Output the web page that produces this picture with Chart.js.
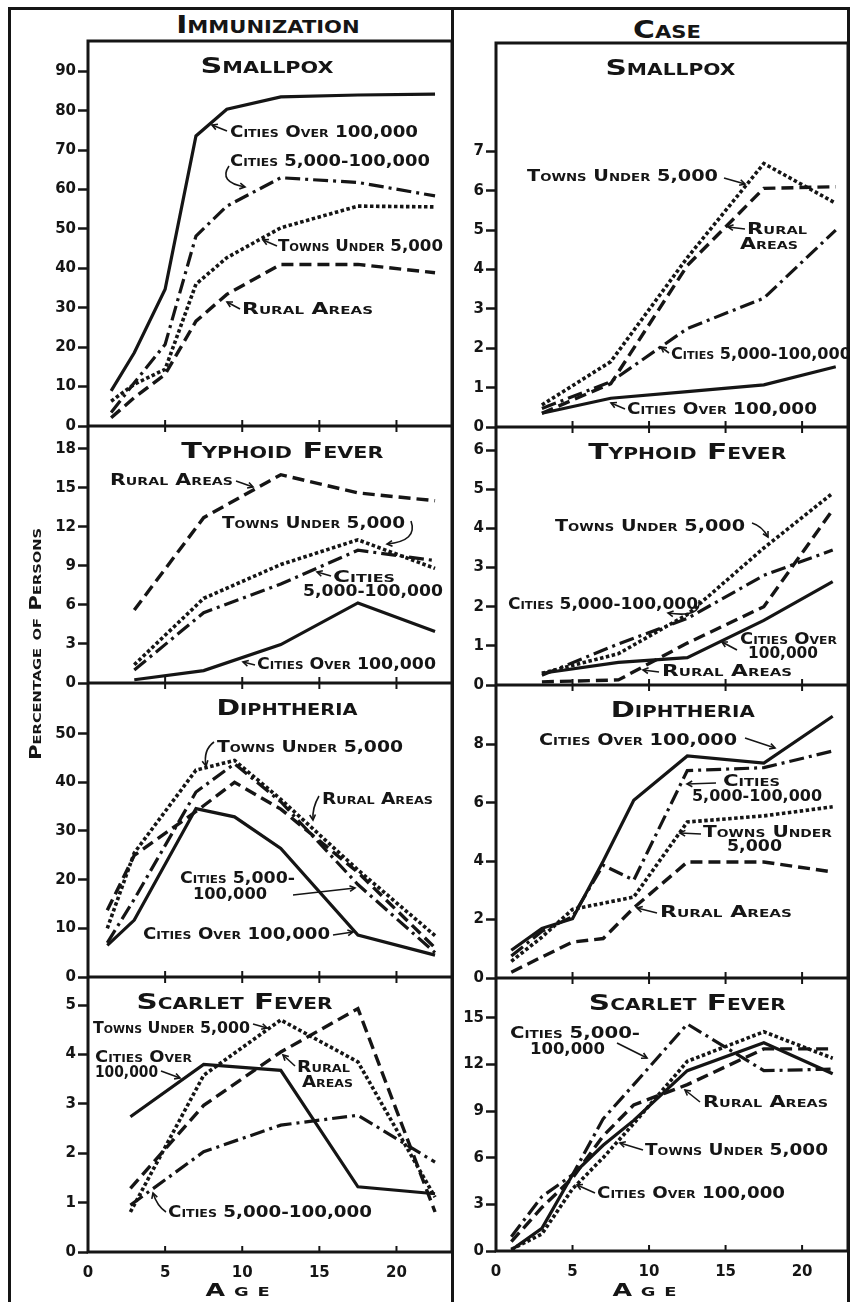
<!DOCTYPE html>
<html>
<head>
<meta charset="utf-8">
<script src="https://cdn.jsdelivr.net/npm/chart.js@4.4.0/dist/chart.umd.min.js"></script>
<style>
  body { margin: 0; background: #fff; }
  #page { position: relative; width: 850px; height: 1302px; overflow: hidden; background: #fff; }
  canvas { position: absolute; top: 0; }
  .rule { position: absolute; background: #151515; }
  .head { position: absolute; width: 220px; text-align: center; color: #151515;
          font: bold 24px "DejaVu Sans"; font-variant: small-caps; line-height: 24px;
          transform: scaleX(1.24); }
</style>
</head>
<body>
<div id="page">
  <div class="rule" style="left:8px;top:7px;width:842px;height:2.5px"></div>
  <div class="rule" style="left:8px;top:7px;width:2.5px;height:1300px"></div>
  <div class="rule" style="left:847px;top:7px;width:2.5px;height:1300px"></div>
  <div class="rule" style="left:451px;top:7px;width:2.5px;height:1300px"></div>
  <div class="head" style="left:158px;top:13px">Immunization</div>
  <div class="head" style="left:557px;top:18px">Case</div>
  <canvas id="immChart" width="460" height="1302" style="left:0"></canvas>
  <canvas id="caseChart" width="390" height="1302" style="left:460px"></canvas>
</div>
<script>
// ---- data (age in years, percentage of persons) ----
const seriesNames = ['Cities Over 100,000', 'Cities 5,000-100,000', 'Towns Under 5,000', 'Rural Areas'];
const diseases = ['Smallpox', 'Typhoid Fever', 'Diphtheria', 'Scarlet Fever'];
const ageTicks = [0, 5, 10, 15, 20];

// Immunization
const immSmallpoxAges = [1.5, 3, 5, 7, 9, 12.5, 17.5, 22.5];
const immSmallpoxCities100k = [8.9, 18.6, 34.7, 73.6, 80.4, 83.5, 84.0, 84.2];
const immSmallpoxCities5k = [3.4, 11, 20.7, 48.2, 55.8, 63, 61.8, 58.4];
const immSmallpoxTowns = [6.3, 10.6, 14.4, 36, 42.7, 50.3, 55.8, 55.6];
const immSmallpoxRural = [2.1, 7.2, 13.1, 26.6, 33.4, 41, 41, 38.9];
const immSmallpoxTicks = [0, 10, 20, 30, 40, 50, 60, 70, 80, 90];

const immTyphoidAges = [3, 7.5, 12.5, 17.5, 22.5];
const immTyphoidCities100k = [0.25, 0.95, 2.95, 6.15, 3.96];
const immTyphoidCities5k = [1.0, 5.4, 7.6, 10.2, 9.4];
const immTyphoidTowns = [1.4, 6.5, 9.1, 11.0, 8.8];
const immTyphoidRural = [5.6, 12.7, 16.0, 14.6, 14.0];
const immTyphoidTicks = [0, 3, 6, 9, 12, 15, 18];

const immDiphtheriaAges = [1.25, 3, 7, 9.5, 12.5, 17.5, 22.5];
const immDiphtheriaCities100k = [6.5, 11.7, 34.6, 32.9, 26.4, 8.6, 4.5];
const immDiphtheriaCities5k = [7, 16, 38, 43.8, 36, 19, 5];
const immDiphtheriaTowns = [10, 25.5, 42.5, 44.5, 36.5, 22, 8.5];
const immDiphtheriaRural = [13.7, 25, 34, 40, 34.5, 21.5, 6];
const immDiphtheriaTicks = [0, 10, 20, 30, 40, 50];

const immScarletAges = [2.75, 7.5, 12.5, 17.5, 22.5];
const immScarletCities100k = [2.74, 3.8, 3.68, 1.32, 1.18];
const immScarletCities5k = [0.95, 2.03, 2.57, 2.77, 1.82];
const immScarletTowns = [0.81, 3.58, 4.7, 3.85, 1.11];
const immScarletRural = [1.29, 2.97, 4.05, 4.93, 0.81];
const immScarletTicks = [0, 1, 2, 3, 4, 5];

// Case
const caseSmallpoxAges = [3, 7.5, 12.5, 17.5, 22.2];
const caseSmallpoxCities100k = [0.35, 0.73, 0.9, 1.07, 1.53];
const caseSmallpoxCities5k = [0.47, 1.15, 2.5, 3.27, 5.0];
const caseSmallpoxTowns = [0.56, 1.66, 4.3, 6.69, 5.68];
const caseSmallpoxRural = [0.35, 1.1, 4.1, 6.06, 6.1];
const caseSmallpoxTicks = [0, 1, 2, 3, 4, 5, 6, 7];

const caseTyphoidAges = [3, 8, 12.5, 17.5, 22];
const caseTyphoidCities100k = [0.3, 0.58, 0.7, 1.65, 2.64];
const caseTyphoidCities5k = [0.25, 1.05, 1.7, 2.8, 3.45];
const caseTyphoidTowns = [0.3, 0.8, 1.8, 3.5, 4.9];
const caseTyphoidRural = [0.08, 0.13, 1.07, 2.0, 4.47];
const caseTyphoidTicks = [0, 1, 2, 3, 4, 5, 6];

const caseDiphtheriaAges = [1, 3, 5, 7, 9, 12.5, 17.5, 22];
const caseDiphtheriaCities100k = [0.95, 1.7, 2.03, 4.0, 6.08, 7.6, 7.36, 8.96];
const caseDiphtheriaCities5k = [0.75, 1.6, 2.1, 3.86, 3.35, 7.1, 7.2, 7.77];
const caseDiphtheriaTowns = [0.57, 1.4, 2.35, 2.56, 2.77, 5.34, 5.55, 5.86];
const caseDiphtheriaRural = [0.2, 0.72, 1.23, 1.35, 2.4, 3.97, 3.97, 3.63];
const caseDiphtheriaTicks = [0, 2, 4, 6, 8];

const caseScarletAges = [1, 3, 5, 7, 9, 12.5, 17.5, 22];
const caseScarletCities100k = [0.06, 1.46, 4.9, 6.8, 8.4, 11.6, 13.4, 11.4];
const caseScarletCities5k = [0.92, 3.5, 4.9, 8.5, 10.7, 14.6, 11.6, 11.7];
const caseScarletTowns = [0.1, 1.1, 4.0, 6.0, 8.2, 12.2, 14.1, 12.4];
const caseScarletRural = [0.6, 2.8, 4.7, 7.4, 9.4, 10.7, 13.0, 13.0];
const caseScarletTicks = [0, 3, 6, 9, 12, 15];

// ---- styles ----
const ink = '#151515';
const lineStyles = [
  { dash: [], width: 3.2 },             // cities over 100,000: solid
  { dash: [15, 5, 3, 5], width: 3.2 },  // cities 5,000-100,000: dash-dot
  { dash: [3.5, 2.5], width: 3.6 },     // towns: dotted
  { dash: [12, 6], width: 3.4 }         // rural: dashed
];
const FONT = '"DejaVu Sans"';

// text in small caps, stretched to the width it has in the original lettering
function drawText(ctx, text, x, y, size, w, align) {
  ctx.save();
  ctx.font = 'small-caps bold ' + size + 'px ' + FONT;
  const sx = w ? w / ctx.measureText(text).width : 1;
  ctx.translate(x, y);
  ctx.scale(sx, 1);
  ctx.textAlign = align || 'left';
  ctx.textBaseline = 'middle';
  ctx.fillText(text, 0, 0);
  ctx.restore();
}

function drawArrow(ctx, a) {
  let ex, ey, fx, fy;
  ctx.beginPath();
  ctx.moveTo(a[0], a[1]);
  if (a.length === 6) {
    ctx.quadraticCurveTo(a[2], a[3], a[4], a[5]);
    ex = a[4]; ey = a[5]; fx = a[2]; fy = a[3];
  } else {
    ctx.lineTo(a[2], a[3]);
    ex = a[2]; ey = a[3]; fx = a[0]; fy = a[1];
  }
  ctx.stroke();
  const ang = Math.atan2(ey - fy, ex - fx);
  ctx.beginPath();
  ctx.moveTo(ex - 6 * Math.cos(ang - 0.5), ey - 6 * Math.sin(ang - 0.5));
  ctx.lineTo(ex, ey);
  ctx.lineTo(ex - 6 * Math.cos(ang + 0.5), ey - 6 * Math.sin(ang + 0.5));
  ctx.stroke();
}

// frame, row separators, inner ticks, titles and the hand-placed labels
function framePlugin(cfg) {
  return {
    id: 'frame',
    afterDraw(chart) {
      const { ctx, chartArea: a, scales } = chart;
      const xs = scales.x;
      ctx.save();
      ctx.strokeStyle = ink;
      ctx.fillStyle = ink;
      ctx.setLineDash([]);
      ctx.lineWidth = 3;
      ctx.strokeRect(a.left, a.top, a.right - a.left, a.bottom - a.top);
      cfg.rows.forEach((row, r) => {
        const ys = scales['y' + r];
        const last = r === cfg.rows.length - 1;
        ctx.lineWidth = 3;
        if (!last) {
          ctx.beginPath();
          ctx.moveTo(a.left, ys.bottom);
          ctx.lineTo(a.right, ys.bottom);
          ctx.stroke();
        }
        ctx.lineWidth = 2;
        ageTicks.forEach(v => {
          if (v === 0) return;
          const px = xs.getPixelForValue(v);
          ctx.beginPath();
          ctx.moveTo(px, ys.bottom - 6);
          ctx.lineTo(px, last ? ys.bottom : ys.bottom + 6);
          ctx.stroke();
        });
        drawText(ctx, diseases[r], xs.getPixelForValue(row.titleAt), ys.top + 26, 22, row.titleWidth, 'center');
      });
      ctx.lineWidth = 1.6;
      cfg.notes.forEach(n => {
        drawText(ctx, n.t, n.x - cfg.offsetX, n.y, 16, n.w, 'left');
        if (n.arrow) drawArrow(ctx, n.arrow.map((v, i) => i % 2 === 0 ? v - cfg.offsetX : v));
      });
      drawText(ctx, 'A g e', xs.getPixelForValue(9.7), 1292, 17, 64, 'center');
      if (cfg.yTitle) {
        ctx.save();
        ctx.translate(37, 644);
        ctx.rotate(-Math.PI / 2);
        drawText(ctx, cfg.yTitle, 0, 0, 16, 232, 'center');
        ctx.restore();
      }
      ctx.restore();
    }
  };
}

function buildColumn(canvasId, cfg) {
  const datasets = [];
  cfg.rows.forEach((row, r) => {
    row.series.forEach((vals, s) => {
      datasets.push({
        label: seriesNames[s],
        data: vals.map((v, i) => ({ x: row.ages[i], y: v })),
        yAxisID: 'y' + r,
        borderColor: ink,
        borderWidth: lineStyles[s].width,
        borderDash: lineStyles[s].dash,
        borderCapStyle: 'butt',
        pointRadius: 0,
        tension: 0,
        fill: false
      });
    });
  });

  const scales = {
    x: {
      type: 'linear', min: 0, max: cfg.xMax,
      afterBuildTicks: s => { s.ticks = ageTicks.map(v => ({ value: v })); },
      afterFit: s => { s.height = cfg.bottomSpace; },
      grid: { display: false },
      border: { display: false },
      ticks: { color: ink, padding: 4, font: { family: 'DejaVu Sans', size: 15, weight: 'bold' } }
    }
  };
  cfg.rows.forEach((row, r) => {
    scales['y' + r] = {
      type: 'linear', position: 'left',
      stack: 'rows', stackWeight: row.height, weight: cfg.rows.length - r,
      min: 0, max: row.yMax,
      afterBuildTicks: s => { s.ticks = row.ticks.map(v => ({ value: v })); },
      afterFit: s => { s.width = cfg.axisWidth; },
      grid: { drawOnChartArea: false, tickLength: 10, tickWidth: 2.5, tickColor: ink },
      border: { display: false },
      ticks: { color: ink, padding: 2, autoSkip: false, font: { family: 'DejaVu Sans', size: 15, weight: 'bold' } }
    };
  });

  return new Chart(document.getElementById(canvasId), {
    type: 'line',
    data: { datasets: datasets },
    options: {
      responsive: false,
      animation: false,
      layout: { padding: { top: cfg.topSpace, right: cfg.rightSpace, left: 0, bottom: 0 } },
      plugins: { legend: { display: false }, tooltip: { enabled: false } },
      scales: scales
    },
    plugins: [framePlugin(cfg)]
  });
}

buildColumn('immChart', {
  offsetX: 0, xMax: 23.6, axisWidth: 88, topSpace: 41, rightSpace: 8, bottomSpace: 50,
  yTitle: 'Percentage of Persons',
  rows: [
    { ages: immSmallpoxAges, series: [immSmallpoxCities100k, immSmallpoxCities5k, immSmallpoxTowns, immSmallpoxRural],
      ticks: immSmallpoxTicks, yMax: 97.7, height: 385, titleAt: 11.6, titleWidth: 133 },
    { ages: immTyphoidAges, series: [immTyphoidCities100k, immTyphoidCities5k, immTyphoidTowns, immTyphoidRural],
      ticks: immTyphoidTicks, yMax: 19.74, height: 257, titleAt: 12.6, titleWidth: 202 },
    { ages: immDiphtheriaAges, series: [immDiphtheriaCities100k, immDiphtheriaCities5k, immDiphtheriaTowns, immDiphtheriaRural],
      ticks: immDiphtheriaTicks, yMax: 60.4, height: 294, titleAt: 12.9, titleWidth: 141 },
    { ages: immScarletAges, series: [immScarletCities100k, immScarletCities5k, immScarletTowns, immScarletRural],
      ticks: immScarletTicks, yMax: 5.57, height: 275, titleAt: 9.5, titleWidth: 196 }
  ],
  notes: [
    { t: 'Cities Over 100,000', x: 230, y: 133, w: 188, arrow: [227, 131, 212, 125] },
    { t: 'Cities 5,000-100,000', x: 230, y: 162, w: 200, arrow: [229, 166, 218, 182, 245, 187] },
    { t: 'Towns Under 5,000', x: 278, y: 247, w: 165, arrow: [277, 246, 263, 240] },
    { t: 'Rural Areas', x: 242, y: 310, w: 131, arrow: [240, 309, 227, 302] },

    { t: 'Rural Areas', x: 110, y: 481, w: 123, arrow: [236, 481, 253, 487] },
    { t: 'Towns Under 5,000', x: 222, y: 524, w: 183, arrow: [411, 521, 418, 541, 387, 544] },
    { t: 'Cities', x: 333, y: 578, w: 62, arrow: [331, 576, 317, 572] },
    { t: '5,000-100,000', x: 303, y: 592, w: 140 },
    { t: 'Cities Over 100,000', x: 257, y: 665, w: 179, arrow: [255, 665, 243, 662] },

    { t: 'Towns Under 5,000', x: 217, y: 748, w: 186, arrow: [214, 742, 203, 750, 206, 766] },
    { t: 'Rural Areas', x: 322, y: 800, w: 111, arrow: [319, 796, 312, 808, 313, 820] },
    { t: 'Cities 5,000-', x: 180, y: 879, w: 115 },
    { t: '100,000', x: 193, y: 895, w: 74, arrow: [293, 895, 355, 888] },
    { t: 'Cities Over 100,000', x: 143, y: 935, w: 187, arrow: [333, 935, 353, 932] },

    { t: 'Towns Under 5,000', x: 93, y: 1029, w: 157, arrow: [253, 1024, 267, 1028] },
    { t: 'Cities Over', x: 95, y: 1058, w: 97 },
    { t: '100,000', x: 95, y: 1073, w: 63, arrow: [161, 1071, 180, 1078] },
    { t: 'Rural', x: 297, y: 1068, w: 53, arrow: [295, 1066, 283, 1055] },
    { t: 'Areas', x: 302, y: 1083, w: 51 },
    { t: 'Cities 5,000-100,000', x: 168, y: 1213, w: 204, arrow: [166, 1212, 157, 1206, 153, 1193] }
  ]
});

buildColumn('caseChart', {
  offsetX: 460, xMax: 23.0, axisWidth: 36, topSpace: 43, rightSpace: 2, bottomSpace: 51,
  rows: [
    { ages: caseSmallpoxAges, series: [caseSmallpoxCities100k, caseSmallpoxCities5k, caseSmallpoxTowns, caseSmallpoxRural],
      ticks: caseSmallpoxTicks, yMax: 9.75, height: 384, titleAt: 11.4, titleWidth: 130 },
    { ages: caseTyphoidAges, series: [caseTyphoidCities100k, caseTyphoidCities5k, caseTyphoidTowns, caseTyphoidRural],
      ticks: caseTyphoidTicks, yMax: 6.59, height: 258, titleAt: 12.5, titleWidth: 198 },
    { ages: caseDiphtheriaAges, series: [caseDiphtheriaCities100k, caseDiphtheriaCities5k, caseDiphtheriaTowns, caseDiphtheriaRural],
      ticks: caseDiphtheriaTicks, yMax: 10.03, height: 293, titleAt: 12.2, titleWidth: 144 },
    { ages: caseScarletAges, series: [caseScarletCities100k, caseScarletCities5k, caseScarletTowns, caseScarletRural],
      ticks: caseScarletTicks, yMax: 17.56, height: 273, titleAt: 12.5, titleWidth: 197 }
  ],
  notes: [
    { t: 'Towns Under 5,000', x: 527, y: 177, w: 191, arrow: [724, 178, 745, 184] },
    { t: 'Rural', x: 747, y: 230, w: 60, arrow: [745, 229, 728, 227] },
    { t: 'Areas', x: 740, y: 245, w: 58 },
    { t: 'Cities 5,000-100,000', x: 671, y: 355, w: 180, arrow: [669, 353, 661, 347] },
    { t: 'Cities Over 100,000', x: 627, y: 410, w: 190, arrow: [625, 409, 611, 403] },

    { t: 'Towns Under 5,000', x: 555, y: 527, w: 190, arrow: [752, 523, 762, 526, 768, 537] },
    { t: 'Cities 5,000-100,000', x: 508, y: 605, w: 190, arrow: [699, 600, 702, 618, 668, 613] },
    { t: 'Cities Over', x: 740, y: 640, w: 97 },
    { t: '100,000', x: 748, y: 654, w: 70, arrow: [737, 650, 722, 642] },
    { t: 'Rural Areas', x: 662, y: 672, w: 130, arrow: [659, 672, 643, 670] },

    { t: 'Cities Over 100,000', x: 539, y: 741, w: 198, arrow: [745, 738, 775, 748] },
    { t: 'Cities', x: 723, y: 782, w: 57, arrow: [716, 783, 687, 784] },
    { t: '5,000-100,000', x: 692, y: 797, w: 130 },
    { t: 'Towns Under', x: 703, y: 833, w: 129, arrow: [701, 834, 680, 833] },
    { t: '5,000', x: 727, y: 847, w: 55 },
    { t: 'Rural Areas', x: 660, y: 913, w: 132, arrow: [657, 913, 637, 908] },

    { t: 'Cities 5,000-', x: 510, y: 1034, w: 130 },
    { t: '100,000', x: 530, y: 1050, w: 75, arrow: [617, 1043, 647, 1058] },
    { t: 'Rural Areas', x: 703, y: 1103, w: 125, arrow: [700, 1102, 685, 1090] },
    { t: 'Towns Under 5,000', x: 645, y: 1151, w: 183, arrow: [643, 1150, 620, 1143] },
    { t: 'Cities Over 100,000', x: 597, y: 1194, w: 188, arrow: [595, 1193, 577, 1185] }
  ]
});
</script>
</body>
</html>
